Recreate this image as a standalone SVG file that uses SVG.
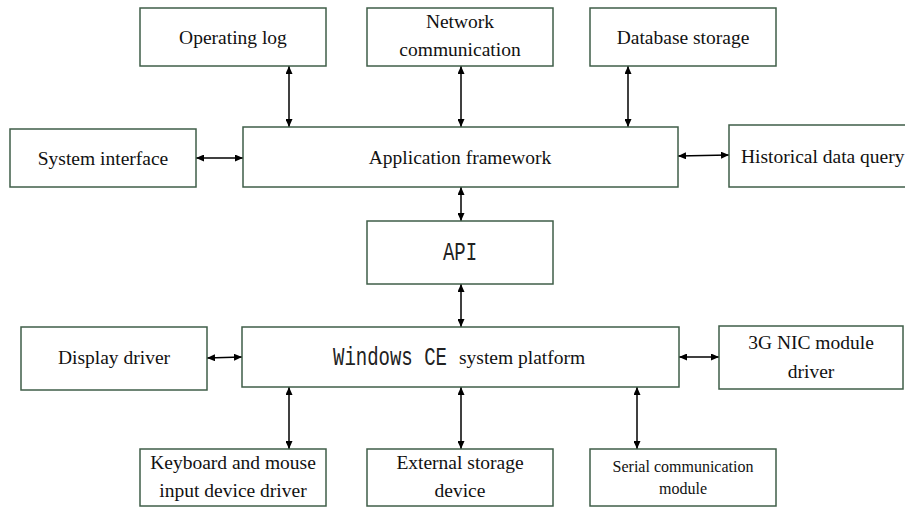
<svg xmlns="http://www.w3.org/2000/svg" width="905" height="507" viewBox="0 0 905 507">
<style>
.box{fill:#fff;stroke:#3f5e48;stroke-width:1.5}
.t{font-family:"Liberation Serif","Times New Roman",serif;font-size:19.5px;fill:#111;text-anchor:middle}
.ts{font-size:16px}
.m{font-family:"Liberation Mono","Courier New",monospace;font-size:19px;fill:#222}
.c{stroke:#000;stroke-width:1.5;fill:none;marker-start:url(#ah);marker-end:url(#ah)}
</style>
<defs>
<marker id="ah" viewBox="0 0 8 7" refX="8" refY="3.5" markerWidth="8" markerHeight="7" markerUnits="userSpaceOnUse" orient="auto-start-reverse">
<path d="M0,0 L8,3.5 L0,7 z" fill="#000"/>
</marker>
</defs>
<rect width="905" height="507" fill="#fff"/>
<g id="connectors">
<line class="c" x1="289" y1="66" x2="289" y2="127"/>
<line class="c" x1="461" y1="66" x2="461" y2="127"/>
<line class="c" x1="628" y1="66" x2="628" y2="127"/>
<line class="c" x1="196" y1="158" x2="243" y2="158"/>
<line class="c" x1="678" y1="156" x2="729" y2="155"/>
<line class="c" x1="461" y1="187" x2="461" y2="221"/>
<line class="c" x1="461" y1="284" x2="461" y2="327"/>
<line class="c" x1="207" y1="358" x2="242" y2="357"/>
<line class="c" x1="679" y1="357" x2="719" y2="357"/>
<line class="c" x1="289" y1="387" x2="289" y2="449"/>
<line class="c" x1="461" y1="387" x2="461" y2="449"/>
<line class="c" x1="637" y1="387" x2="637" y2="449"/>
</g>
<g id="operating-log"><rect class="box" x="140" y="8" width="186" height="58"/><text class="t" x="233" y="44">Operating log</text></g>
<g id="network-communication"><rect class="box" x="367" y="8" width="186" height="58"/><text class="t" x="460" y="28">Network</text><text class="t" x="460" y="56">communication</text></g>
<g id="database-storage"><rect class="box" x="590" y="8" width="186" height="58"/><text class="t" x="683" y="44">Database storage</text></g>
<g id="system-interface"><rect class="box" x="10" y="129" width="186" height="58"/><text class="t" x="103" y="165">System interface</text></g>
<g id="application-framework"><rect class="box" x="243" y="127" width="435" height="60"/><text class="t" x="460" y="164">Application framework</text></g>
<g id="historical-data-query"><rect class="box" x="729" y="125" width="190" height="62"/><text class="t" x="741" y="163" style="text-anchor:start">Historical data query</text></g>
<g id="api"><rect class="box" x="367" y="221" width="186" height="63"/><text class="m" transform="translate(460,260) scale(1,1.33)" text-anchor="middle">API</text></g>
<g id="windows-ce"><rect class="box" x="242" y="327" width="437" height="60"/><text class="m" transform="translate(333,365) scale(1,1.33)">Windows CE</text><text class="t" x="459" y="364" style="text-anchor:start">system platform</text></g>
<g id="display-driver"><rect class="box" x="21" y="327" width="186" height="63"/><text class="t" x="114" y="364">Display driver</text></g>
<g id="nic-driver"><rect class="box" x="719" y="326" width="184" height="63"/><text class="t" x="811" y="349">3G NIC module</text><text class="t" x="811" y="378">driver</text></g>
<g id="keyboard-mouse"><rect class="box" x="140" y="449" width="186" height="57"/><text class="t" x="233" y="469">Keyboard and mouse</text><text class="t" x="233" y="497">input device driver</text></g>
<g id="external-storage"><rect class="box" x="367" y="449" width="186" height="57"/><text class="t" x="460" y="469">External storage</text><text class="t" x="460" y="497">device</text></g>
<g id="serial-communication"><rect class="box" x="590" y="449" width="186" height="57"/><text class="t ts" x="683" y="472">Serial communication</text><text class="t ts" x="683" y="494">module</text></g>
</svg>
